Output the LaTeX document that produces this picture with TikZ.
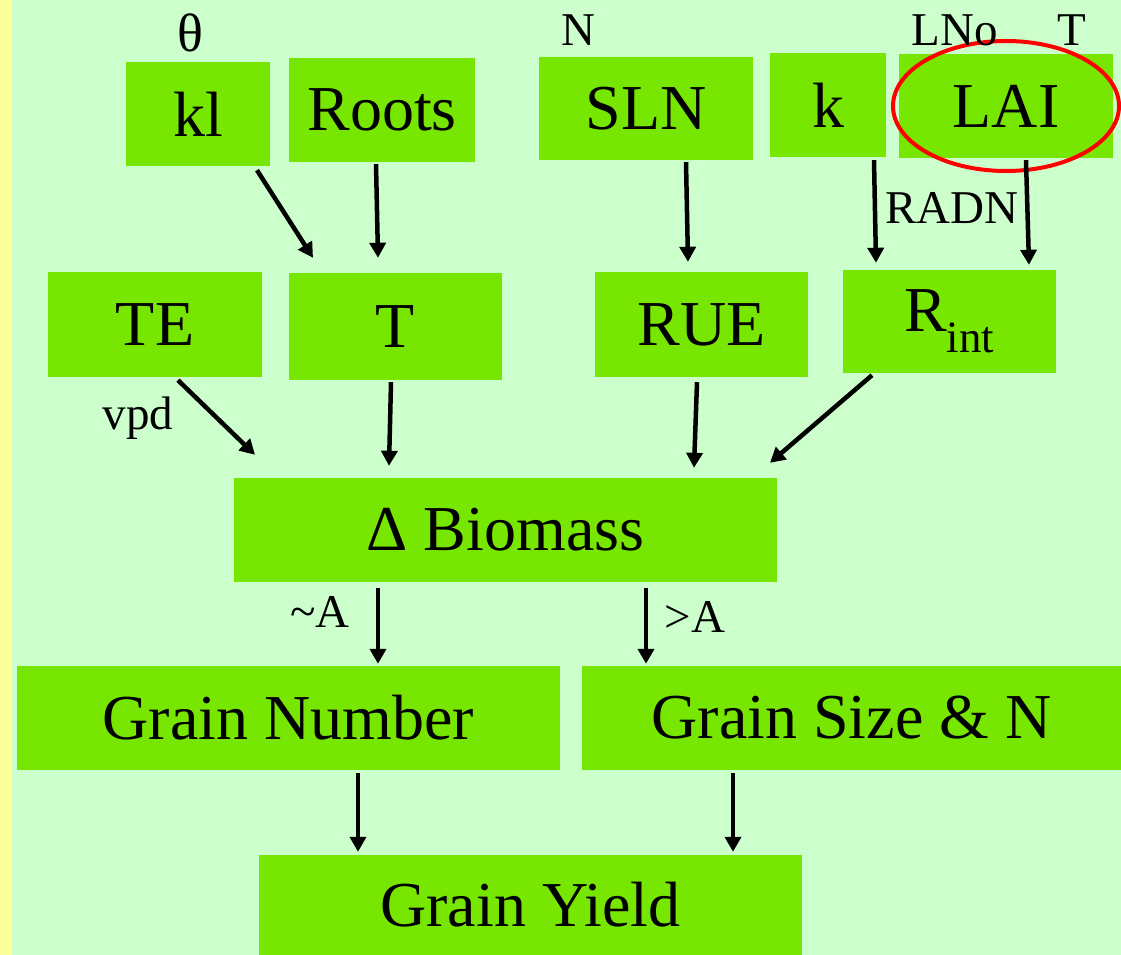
\documentclass[tikz,border=0pt]{standalone}
\usepackage{fontspec}
\setmainfont{Liberation Serif}
\usetikzlibrary{arrows.meta}
\definecolor{bgc}{HTML}{CCFFCC}
\definecolor{stripc}{HTML}{FFFF99}
\definecolor{boxc}{HTML}{77E600}
\begin{document}
\begin{tikzpicture}[x=1pt,y=-1pt,
  box/.style={fill=boxc, inner sep=0pt, font=\fontsize{64}{68}\selectfont},
  lbl/.style={inner sep=0pt, font=\fontsize{47}{50}\selectfont},
  arr/.style={line width=4.5pt, -{Triangle[length=15pt,width=16pt]}}]
\useasboundingbox (0,0) rectangle (1121,955);
\fill[bgc] (0,0) rectangle (1121,955);
\fill[stripc] (0,0) rectangle (12,955);
% top row
\node[box, minimum width=144pt, minimum height=104pt] (kl) at (198,114) {kl};
\node[box, minimum width=186pt, minimum height=104pt] (roots) at (382,110) {Roots};
\node[box, minimum width=214pt, minimum height=103pt] (sln) at (646,108.5) {SLN};
\node[box, minimum width=116pt, minimum height=104pt] (k) at (828,105) {k};
\node[box, minimum width=214pt, minimum height=104pt] (lai) at (1006,106) {LAI};
% second row
\node[box, minimum width=214pt, minimum height=105pt] (te) at (155,324.5) {TE};
\node[box, minimum width=213pt, minimum height=107pt] (t) at (395.5,326.5) {T};
\node[box, minimum width=213pt, minimum height=105pt] (rue) at (701.5,324.5) {RUE};
\node[box, minimum width=213pt, minimum height=103pt] (rint) at (949.5,321.5) {R\textsubscript{int}};
% biomass
\node[box, minimum width=543pt, minimum height=104pt] (bio) at (505.5,530) {Δ Biomass};
% grain
\node[box, minimum width=543pt, minimum height=104pt] (gn) at (288.5,718) {Grain Number};
\node[box, minimum width=539pt, minimum height=104pt] (gs) at (851.5,718) {Grain Size \& N};
\node[box, minimum width=543pt, minimum height=100pt] (gy) at (530.5,905) {Grain Yield};
% ellipse
\draw[red, line width=4pt] (lai.center) ellipse [x radius=113pt, y radius=65pt];
% labels
\node[lbl, font=\fontsize{54}{56}\selectfont] (theta) at (190,33) {θ};
\node[lbl] (nlbl) at (578,30) {N};
\node[lbl] (lno) at (955,30) {LNo};
\node[lbl] (tlbl) at (1072,30) {T};
\node[lbl] (radn) at (952,208) {RADN};
\node[lbl] (vpd) at (138,418) {vpd};
\node[lbl] (siml) at (320,612) {\textasciitilde A};
\node[lbl] (gtl) at (695,617) {>A};
% arrows
\draw[arr] ([xshift=59pt,yshift=-4pt]kl.south) -- ([xshift=-82.5pt,yshift=15pt]t.north);
\draw[arr] ([xshift=-6pt,yshift=-2pt]roots.south) -- ([xshift=-17.5pt,yshift=15pt]t.north);
\draw[arr] ([xshift=40pt,yshift=-2pt]sln.south) -- ([xshift=-13.5pt,yshift=10pt]rue.north);
\draw[arr] ([xshift=46pt,yshift=-3pt]k.south) -- ([xshift=-73.5pt,yshift=7pt]rint.north);
\draw[arr] ([xshift=20pt,yshift=-2pt]lai.south) -- ([xshift=79.5pt,yshift=5pt]rint.north);
\draw[arr] ([xshift=23pt,yshift=-3pt]te.south) -- ([xshift=-250.5pt,yshift=23pt]bio.north);
\draw[arr] ([xshift=-4.5pt,yshift=-2pt]t.south) -- ([xshift=-116.5pt,yshift=12pt]bio.north);
\draw[arr] ([xshift=-4.5pt,yshift=-5pt]rue.south) -- ([xshift=188.5pt,yshift=10pt]bio.north);
\draw[arr] ([xshift=-77.5pt,yshift=-2pt]rint.south) -- ([xshift=264.5pt,yshift=15pt]bio.north);
\draw[arr] ([xshift=-127.5pt,yshift=-6pt]bio.south) -- ([xshift=89.5pt,yshift=2pt]gn.north);
\draw[arr] ([xshift=140.5pt,yshift=-6pt]bio.south) -- ([xshift=-205.5pt,yshift=2pt]gs.north);
\draw[arr] ([xshift=69.5pt,yshift=-3pt]gn.south) -- ([xshift=-172.5pt,yshift=3pt]gy.north);
\draw[arr] ([xshift=-118.5pt,yshift=-3pt]gs.south) -- ([xshift=202.5pt,yshift=3pt]gy.north);
\end{tikzpicture}
\end{document}
